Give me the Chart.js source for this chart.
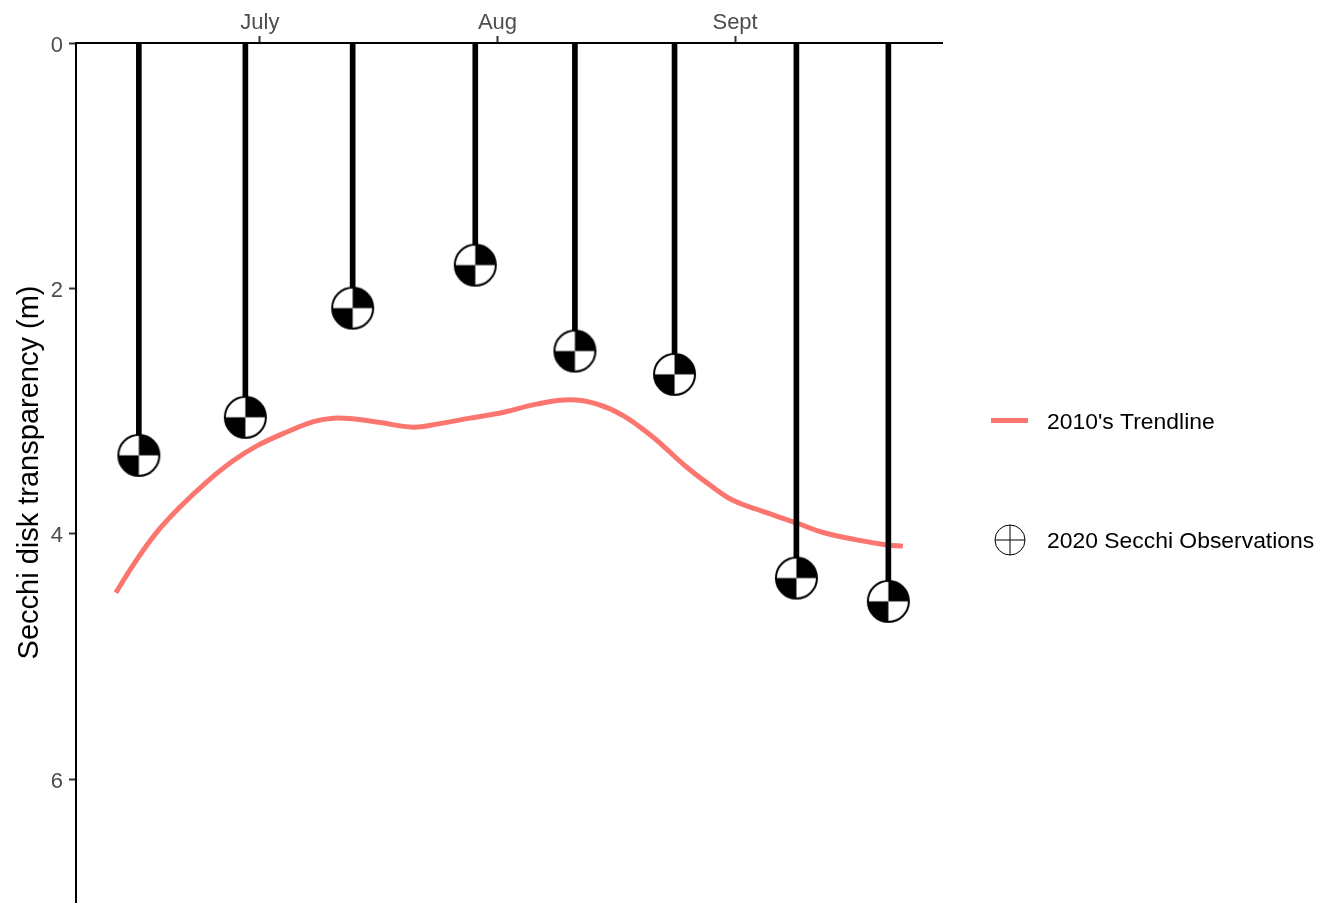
<!DOCTYPE html>
<html>
<head>
<meta charset="utf-8">
<title>Secchi disk transparency</title>
<script src="https://cdn.jsdelivr.net/npm/chart.js@4"></script>
<style>
  html, body { margin: 0; padding: 0; background: #fff; }
  canvas { display: block; }
</style>
</head>
<body>
<canvas id="myChart" width="1323" height="909"></canvas>
<script>
// day of year for x, depth in metres for y
const monthDays = [182, 213, 244];
const monthLabels = ['July', 'Aug', 'Sept'];
const depthTicks = [0, 2, 4, 6];

const obsDays = [166.2, 180.1, 194.1, 210.1, 223.1, 236.1, 252, 264];
const obsDepths = [3.36, 3.05, 2.16, 1.81, 2.51, 2.70, 4.36, 4.55];

const trendDays = [163.2, 165.5, 168.5, 171.6, 175.0, 178.5, 181.6, 185.5, 189.0, 191.6, 194.6, 197.7,
    202.0, 205.1, 209.4, 213.8, 218.1, 222.5, 226.0, 229.4, 232.9, 234.6, 237.7, 240.7, 243.8, 247.7,
    252.1, 255.5, 259.9, 263.8, 265.9];
const trendDepths = [4.48, 4.25, 3.99, 3.78, 3.58, 3.405, 3.283, 3.17, 3.085, 3.057, 3.066, 3.093,
    3.131, 3.106, 3.057, 3.009, 2.943, 2.908, 2.943, 3.036, 3.193, 3.283, 3.457, 3.601, 3.729, 3.818,
    3.913, 3.989, 4.049, 4.090, 4.100];

const trendName = "2010's Trendline";
const obsName = '2020 Secchi Observations';
const trendColor = '#FA766E';
const fontName = '"Liberation Sans", Arial, sans-serif';

const secchiIcon = (radius, filled, lineWidth) => {
    const size = Math.ceil(radius * 2 + 4);
    const icon = document.createElement('canvas');
    icon.width = size;
    icon.height = size;
    const ctx = icon.getContext('2d');
    const c = size / 2;
    ctx.beginPath();
    ctx.arc(c, c, radius, 0, Math.PI * 2);
    ctx.fillStyle = '#fff';
    ctx.fill();
    if (filled) {
        ctx.fillStyle = '#000';
        ctx.beginPath();
        ctx.moveTo(c, c);
        ctx.arc(c, c, radius, -Math.PI / 2, 0);
        ctx.closePath();
        ctx.fill();
        ctx.beginPath();
        ctx.moveTo(c, c);
        ctx.arc(c, c, radius, Math.PI / 2, Math.PI);
        ctx.closePath();
        ctx.fill();
    } else {
        ctx.strokeStyle = '#000';
        ctx.lineWidth = lineWidth;
        ctx.beginPath();
        ctx.moveTo(c - radius, c);
        ctx.lineTo(c + radius, c);
        ctx.moveTo(c, c - radius);
        ctx.lineTo(c, c + radius);
        ctx.stroke();
    }
    ctx.strokeStyle = '#000';
    ctx.lineWidth = lineWidth;
    ctx.beginPath();
    ctx.arc(c, c, radius, 0, Math.PI * 2);
    ctx.stroke();
    return icon;
};

const pointIcon = secchiIcon(20.5, true, 2);
const keyIcon = secchiIcon(15, false, 1);

// legend sits far apart vertically, so it is drawn here rather than by the built-in box
const sideLegend = {
    id: 'sideLegend',
    afterDraw(chart) {
        const ctx = chart.ctx;
        ctx.save();
        ctx.strokeStyle = trendColor;
        ctx.lineWidth = 5;
        ctx.beginPath();
        ctx.moveTo(991, 420.5);
        ctx.lineTo(1028, 420.5);
        ctx.stroke();
        ctx.drawImage(keyIcon, 1010 - keyIcon.width / 2, 540 - keyIcon.height / 2);
        ctx.fillStyle = '#000';
        ctx.font = '22.9px ' + fontName;
        ctx.textBaseline = 'middle';
        ctx.fillText(trendName, 1047, 423);
        ctx.fillText(obsName, 1047, 542);
        ctx.restore();
    }
};

const pairs = (xs, ys) => xs.map((x, i) => ({ x: x, y: ys[i] }));

const axisGrid = {
    display: true,
    offset: false,
    drawOnChartArea: false,
    drawTicks: true,
    tickLength: 7,
    tickColor: '#333333',
    tickWidth: 2
};

new Chart(document.getElementById('myChart'), {
    type: 'bar',
    data: {
        datasets: [
            {
                type: 'line',
                label: trendName,
                data: pairs(trendDays, trendDepths),
                borderColor: trendColor,
                borderWidth: 5,
                pointRadius: 0,
                tension: 0.4,
                order: 3
            },
            {
                type: 'bar',
                label: 'stems',
                data: pairs(obsDays, obsDepths),
                backgroundColor: '#000',
                barThickness: 5,
                order: 2
            },
            {
                type: 'scatter',
                label: obsName,
                data: pairs(obsDays, obsDepths),
                pointStyle: pointIcon,
                order: 1
            }
        ]
    },
    options: {
        responsive: false,
        animation: false,
        layout: { padding: { right: 381, bottom: 7 } },
        plugins: {
            legend: { display: false },
            tooltip: { enabled: false }
        },
        scales: {
            x: {
                type: 'linear',
                position: 'top',
                min: 158,
                max: 271,
                offset: false,
                grid: axisGrid,
                border: { display: true, color: '#000', width: 2 },
                afterBuildTicks: scale => { scale.ticks = monthDays.map(v => ({ value: v })); },
                afterFit: scale => { scale.height = 43; },
                ticks: {
                    autoSkip: false,
                    maxRotation: 0,
                    padding: 0,
                    color: '#4D4D4D',
                    font: { family: fontName, size: 22 },
                    callback: value => monthLabels[monthDays.indexOf(value)]
                }
            },
            y: {
                type: 'linear',
                reverse: true,
                min: 0,
                max: 7,
                grid: axisGrid,
                border: { display: true, color: '#000', width: 2 },
                afterBuildTicks: scale => { scale.ticks = depthTicks.map(v => ({ value: v })); },
                afterFit: scale => {
                    scale.width = 76;
                    scale.paddingBottom = 0;
                },
                ticks: {
                    padding: 6,
                    labelOffset: 2.5,
                    color: '#4D4D4D',
                    font: { family: fontName, size: 22 }
                },
                title: {
                    display: true,
                    text: 'Secchi disk transparency (m)',
                    color: '#000',
                    font: { family: fontName, size: 29 },
                    padding: { top: 13, bottom: 0 }
                }
            }
        }
    },
    plugins: [sideLegend]
});
</script>
</body>
</html>
